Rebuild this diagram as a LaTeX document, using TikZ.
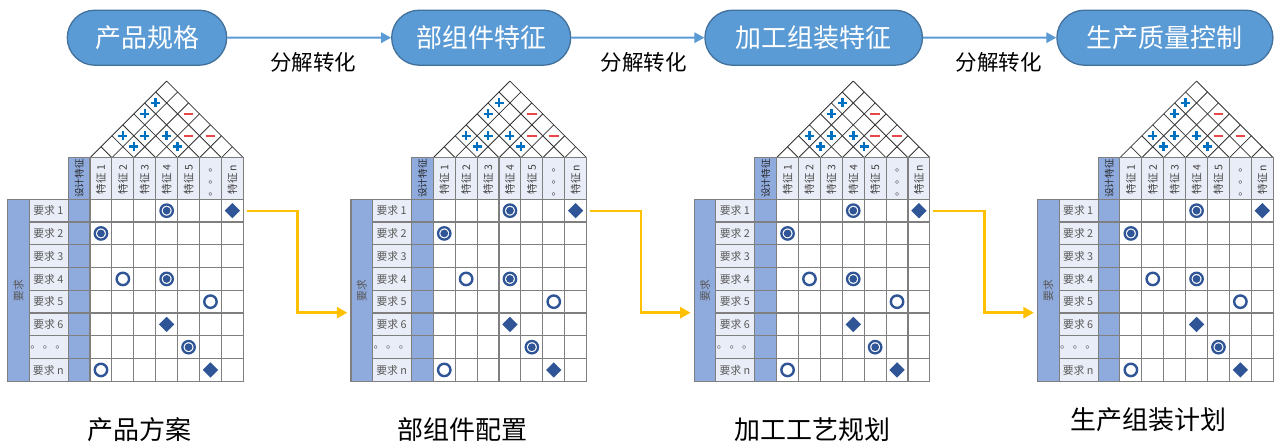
\documentclass[tikz,border=0pt]{standalone}
\usepackage{fontspec}
\setmainfont{Noto Sans CJK SC}
\usetikzlibrary{arrows.meta,shapes.geometric,shapes.misc}
\definecolor{pillfill}{HTML}{5B9BD5}
\definecolor{pilldraw}{HTML}{41719C}
\definecolor{hdrfill}{HTML}{E9EDF7}
\definecolor{colblue}{HTML}{8FAADC}
\definecolor{gridc}{HTML}{7F7F7F}
\definecolor{symc}{HTML}{2F5597}
\definecolor{plusc}{HTML}{0070C0}
\definecolor{minusc}{HTML}{E8474A}
\definecolor{orangec}{HTML}{FFC000}
\definecolor{txtgray}{HTML}{595959}
\tikzset{
  pill/.style={rounded rectangle, fill=pillfill, draw=pilldraw, line width=1.3pt, text=white,
    font=\fontsize{26}{30}\selectfont, minimum height=55pt, inner sep=0pt},
  steplbl/.style={font=\fontsize{21.5}{24}\selectfont, inner sep=0pt},
  bottomlbl/.style={font=\fontsize{26}{30}\selectfont, inner sep=0pt},
  bluearr/.style={draw=pillfill, line width=2pt, -{Triangle[length=10pt,width=10.5pt]}},
  orangearr/.style={draw=orangec, line width=2.6pt, -{Triangle[length=10.5pt,width=11pt]}},
  roofline/.style={draw=black!80, line width=0.8pt},
  gridl/.style={draw=gridc, line width=1.1pt},
  hdrcell/.style={fill=hdrfill, draw=gridc, line width=1.1pt},
  bluecell/.style={fill=colblue, draw=gridc, line width=1.1pt},
  hdrtxt/.style={rotate=90, font=\fontsize{10.5}{12}\selectfont, text=black!75, inner sep=0pt},
  reqtxt/.style={font=\fontsize{10.8}{12}\selectfont, text=txtgray, inner sep=0pt},
  symdbl/.style={circle, draw=symc, line width=2.3pt, minimum size=12.4pt, inner sep=0pt,
    path picture={\fill[symc] (path picture bounding box.center) circle (3.9pt);}},
  symring/.style={circle, draw=symc, line width=2.4pt, minimum size=12.4pt, inner sep=0pt},
  symdia/.style={diamond, fill=symc, minimum size=15.5pt, inner sep=0pt},
  plusline/.style={draw=plusc, line width=2.5pt},
  minusline/.style={draw=minusc, line width=2.5pt}
}
\newcommand\sym[4]{\node[#1] (#4) at ({90+21.9*(#2-0.5)},{199.3+22.75*(#3-0.5)}) {};}
\newcommand\rplus[2]{%
  \pgfmathsetmacro\rx{90+21.9*((#1+#2)/2-0.5)}%
  \pgfmathsetmacro\ry{157.7-10.95*(#2-#1)}%
  \draw[plusline] (\rx-4.5,\ry) -- (\rx+4.5,\ry) (\rx,\ry-4.5) -- (\rx,\ry+4.5);}
\newcommand\rminus[2]{%
  \pgfmathsetmacro\rx{90+21.9*((#1+#2)/2-0.5)}%
  \pgfmathsetmacro\ry{157.7-10.95*(#2-#1)}%
  \draw[minusline] (\rx-4.8,\ry) -- (\rx+4.8,\ry);}
\newcommand\drawhouse[2]{%
\begin{scope}[xshift=#1]
  % roof
  \foreach \k in {0,...,7}{
    \draw[roofline] ({90+21.9*\k},157.7) -- ({90+10.95*(7+\k)},{157.7-10.95*(7-\k)});
    \draw[roofline] ({90+21.9*\k},157.7) -- ({90+10.95*\k},{157.7-10.95*\k});
  }
  \rplus{2}{3}\rplus{4}{5}\rplus{1}{3}\rplus{2}{4}\rplus{3}{5}\rplus{1}{5}\rplus{1}{6}
  \rminus{4}{6}\rminus{5}{7}\rminus{3}{7}
  % header
  \foreach \t [count=\i] in {特征 1,特征 2,特征 3,特征 4,特征 5,{。\,。\,。},特征 n}{
    \filldraw[hdrcell] ({90+21.9*(\i-1)},157.7) rectangle ++(21.9,41.6);
    \node[hdrtxt] (#2-c\i) at ({90+21.9*(\i-0.5)},179.5) {\t};
  }
  \filldraw[bluecell] (68.3,157.7) rectangle (90,199.3);
  \node[hdrtxt, text=black!85, font=\fontsize{9.6}{11}\selectfont] (#2-dh) at (79.2,178.5) {设计特征};
  % rows
  \foreach \t [count=\i] in {要求 1,要求 2,要求 3,要求 4,要求 5,要求 6,{。\,。\,。},要求 n}{
    \filldraw[hdrcell] (29.3,{199.3+22.75*(\i-1)}) rectangle ++(39,22.75);
    \filldraw[bluecell] (68.3,{199.3+22.75*(\i-1)}) rectangle ++(21.7,22.75);
    \node[reqtxt] (#2-r\i) at (48.3,{199.3+22.75*(\i-0.5)}) {\t};
  }
  \filldraw[bluecell] (7.7,199.3) rectangle (29.3,381.3);
  \node[reqtxt, rotate=90] (#2-req) at (18.5,290.3) {要求};
  % matrix
  \foreach \k in {1,...,6} \draw[gridl] ({90+21.9*\k},199.3) -- ({90+21.9*\k},381.3);
  \foreach \k in {1,...,7} \draw[gridl] (90,{199.3+22.75*\k}) -- (243.3,{199.3+22.75*\k});
  \draw[gridl] (90,199.3) rectangle (243.3,381.3);
  \sym{symdbl}{4}{1}{#2-s41}\sym{symdia}{7}{1}{#2-s71}
  \sym{symdbl}{1}{2}{#2-s12}
  \sym{symring}{2}{4}{#2-s24}\sym{symdbl}{4}{4}{#2-s44}
  \sym{symring}{6}{5}{#2-s65}
  \sym{symdia}{4}{6}{#2-s46}
  \sym{symdbl}{5}{7}{#2-s57}
  \sym{symring}{1}{8}{#2-s18}\sym{symdia}{6}{8}{#2-s68}
  \coordinate (#2-out) at (246.7,211);
  \coordinate (#2-in) at (4,312.7);
\end{scope}}
\begin{document}
\begin{tikzpicture}[x=1pt,y=-1pt]
\useasboundingbox[fill=white] (0,0) rectangle (1279,443);
% top flow
\node[pill, minimum width=159.4pt] (p1) at (147,37.7) {产品规格};
\node[pill, minimum width=179pt] (p2) at (481.2,37.7) {部组件特征};
\node[pill, minimum width=217.5pt] (p3) at (813.7,37.7) {加工组装特征};
\node[pill, minimum width=216pt] (p4) at (1164.9,37.7) {生产质量控制};
\draw[bluearr] (p1) -- (p2);
\draw[bluearr] (p2) -- (p3);
\draw[bluearr] (p3) -- (p4);
\node[steplbl] (l1) at (313,62) {分解转化};
\node[steplbl] (l2) at (643.7,62) {分解转化};
\node[steplbl] (l3) at (998.7,62) {分解转化};
% houses
\drawhouse{0pt}{h1}
\drawhouse{343.3pt}{h2}
\drawhouse{686.6pt}{h3}
\drawhouse{1029.9pt}{h4}
\draw[orangearr] (h1-out) -- ++(51,0) |- (h2-in);
\draw[orangearr] (h2-out) -- ++(51,0) |- (h3-in);
\draw[orangearr] (h3-out) -- ++(51,0) |- (h4-in);
% bottom labels
\node[bottomlbl] (b1) at (139,430) {产品方案};
\node[bottomlbl] (b2) at (462,430) {部组件配置};
\node[bottomlbl] (b3) at (812.5,430) {加工工艺规划};
\node[bottomlbl] (b4) at (1148,420) {生产组装计划};
\end{tikzpicture}
\end{document}
